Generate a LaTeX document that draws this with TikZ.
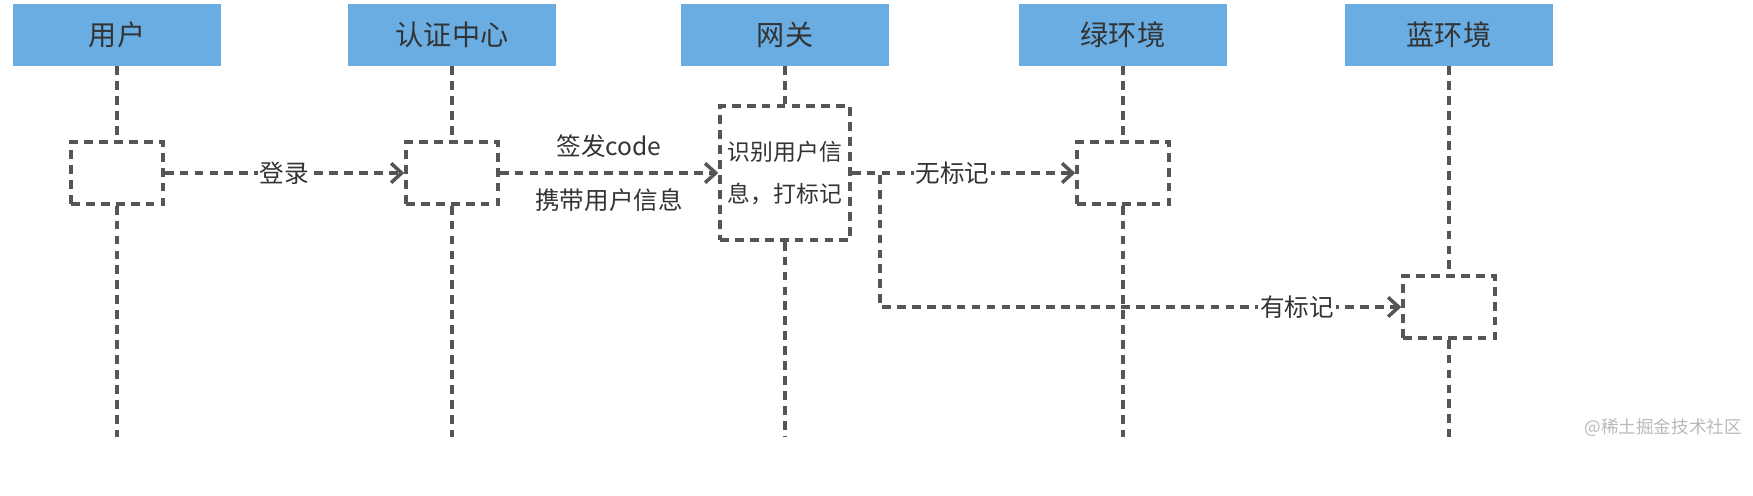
\documentclass[tikz,border=0pt]{standalone}
\usepackage{fontspec}
\setmainfont{Noto Sans CJK SC}
\usetikzlibrary{arrows.meta}
\definecolor{headblue}{HTML}{69ADE2}
\definecolor{linegray}{HTML}{555555}
\definecolor{textgray}{HTML}{333333}
\begin{document}
\begin{tikzpicture}
[x=0.02cm, y=-0.02cm,
header/.style={fill=headblue, minimum width=4.16cm, minimum height=1.24cm, inner sep=0pt, text=textgray, font=\fontsize{16}{19}\selectfont},
lifeline/.style={linegray, line width=2pt, dash pattern=on 5pt off 3.5pt},
act/.style={draw=linegray, line width=2pt, dash pattern=on 5pt off 3.5pt, minimum width=1.84cm, minimum height=1.24cm, inner sep=0pt},
msg/.style={linegray, line width=2pt, dash pattern=on 5pt off 3.5pt, -{Straight Barb[length=6pt,width=11pt,line width=2pt]}},
msglabel/.style={fill=white, inner sep=1pt, text=textgray, font=\fontsize{14}{17}\selectfont}]
\useasboundingbox (0,0) rectangle (1753,496);
% participants
\node[header] (user) at (117,35) {用户};
\node[header] (auth) at (452,35) {认证中心};
\node[header] (gate) at (785,35) {网关};
\node[header] (green) at (1123,35) {绿环境};
\node[header] (blue) at (1449,35) {蓝环境};
% activations
\node[act] (userA) at (117,173) {};
\node[act] (authA) at (452,173) {};
\node[act, minimum width=2.6cm, minimum height=2.68cm, align=center, text=textgray, font=\fontsize{13}{24}\selectfont] (gateA) at (785,173) {识别用户信\\息，打标记};
\node[act] (greenA) at (1123,173) {};
\node[act] (blueA) at (1449,307) {};
% lifeline ends
\coordinate (userE) at (117,437);
\coordinate (authE) at (452,437);
\coordinate (gateE) at (785,437);
\coordinate (greenE) at (1123,437);
\coordinate (blueE) at (1449,437);
\draw[lifeline] (user) -- (userA);
\draw[lifeline] (userA) -- (userE);
\draw[lifeline] (auth) -- (authA);
\draw[lifeline] (authA) -- (authE);
\draw[lifeline] (gate) -- (gateA);
\draw[lifeline] (gateA) -- (gateE);
\draw[lifeline] (green) -- (greenA);
\draw[lifeline] (greenA) -- (greenE);
\draw[lifeline] (blue) -- (blueA);
\draw[lifeline] (blueA) -- (blueE);
% messages
\draw[msg] (userA) -- node[msglabel] {登录} (authA);
\draw[msg] (authA) -- node[msglabel, fill=none, above=7pt] {签发code} node[msglabel, fill=none, below=7pt] {携带用户信息} (gateA);
\draw[msg] (gateA) -- node[msglabel, pos=0.45] {无标记} (greenA);
\draw[msg] (gateA.east) -- ++(28,0) |- node[msglabel, pos=0.9] {有标记} (blueA.west);
\node[anchor=east, text=gray!55, font=\fontsize{10}{12}\selectfont] (mark) at (1748,428) {@稀土掘金技术社区};
\end{tikzpicture}
\end{document}
